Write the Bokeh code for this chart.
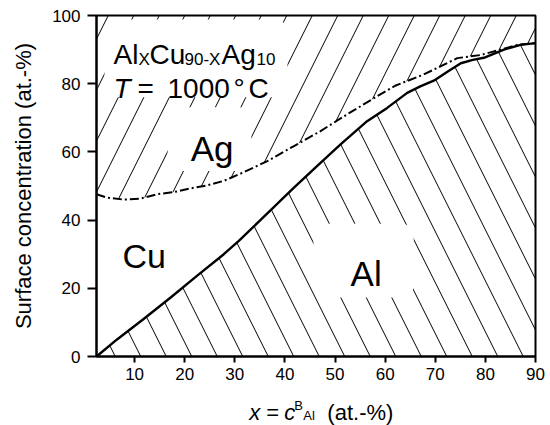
from bokeh.plotting import figure
from bokeh.layouts import column
from bokeh.models import FixedTicker, Label, BoxAnnotation
from bokeh.core.properties import value
from bokeh.embed import file_html
from bokeh.resources import INLINE

# Bulk Al content x (at.-%) and the surface composition boundaries (at.-%)
al_x = [2.4, 6.5, 11.8, 17.2, 22.5, 27.8, 30.8, 35.1, 41.8, 47.1, 51.1,
        56.4, 60.4, 64.4, 67.0, 69.7, 72.5, 75.1, 77.5, 79.7, 83.7, 87.0, 90.0]
al_surface = [0.0, 5.0, 11.0, 17.3, 23.7, 30.0, 33.9, 40.0, 49.5, 56.8, 62.2,
              69.0, 72.9, 77.3, 79.2, 80.9, 83.6, 86.0, 87.0, 87.6, 90.0, 91.4, 91.9]

ag_x = [2.4, 4.5, 7.9, 11.2, 14.5, 17.8, 21.2, 24.5, 27.8, 31.1, 36.5,
        41.8, 47.1, 52.4, 57.8, 62.0, 67.7, 74.4, 79.0, 83.0, 86.4, 90.0]
ag_boundary = [47.6, 46.6, 46.0, 46.3, 47.6, 48.2, 49.3, 50.2, 51.5, 53.6, 57.3,
               61.7, 66.1, 71.0, 75.8, 79.4, 82.7, 87.5, 88.4, 90.0, 91.4, 91.9]

x_ticks = [10, 20, 30, 40, 50, 60, 70, 80, 90]
y_ticks = [0, 20, 40, 60, 80, 100]

FONT = "Liberation Sans"

p = figure(width=550, height=390, x_range=(2.4, 90), y_range=(0, 100),
           output_backend="svg", toolbar_location=None, title_location=None,
           min_border_left=96, min_border_right=15,
           min_border_top=15, min_border_bottom=34)
p.grid.visible = False
p.background_fill_color = "white"
p.border_fill_color = "white"
p.outline_line_color = "black"
p.outline_line_width = 2

# axes
p.xaxis.ticker = FixedTicker(ticks=x_ticks)
p.yaxis.ticker = FixedTicker(ticks=y_ticks)
for ax in (p.xaxis[0], p.yaxis[0]):
    ax.axis_line_width = 2
    ax.major_tick_line_width = 2
    ax.major_tick_in = 0
    ax.minor_tick_line_color = None
    ax.major_label_text_font = FONT
    ax.major_label_text_font_size = "17px"
    ax.major_label_text_color = "black"
p.xaxis.major_tick_out = 6
p.xaxis.major_label_standoff = 5
p.yaxis.major_tick_out = 9
p.yaxis.major_label_standoff = 7
p.yaxis.axis_label = "Surface concentration (at.-%)"
p.yaxis.axis_label_text_font = FONT
p.yaxis.axis_label_text_font_style = "normal"
p.yaxis.axis_label_text_font_size = "22px"
p.yaxis.axis_label_text_color = "black"
p.yaxis.axis_label_standoff = 13

y_top = y_ticks[-1]

# hatched regions: Ag above the dash-dot boundary, Al below the solid one
p.varea(x=ag_x, y1=ag_boundary, y2=[y_top] * len(ag_x),
        fill_alpha=0, hatch_pattern="/", hatch_scale=51,
        hatch_weight=1, hatch_color="black")
p.varea(x=al_x, y1=[0] * len(al_x), y2=al_surface,
        fill_alpha=0, hatch_pattern="\\", hatch_scale=51,
        hatch_weight=1, hatch_color="black")

# white backgrounds behind the texts inside the frame
for left, right, bottom, top in [(4.0, 40.5, 76.0, 98.8),
                                 (16.6, 33.3, 54.4, 73.1),
                                 (45.7, 65.7, 17.3, 38.9)]:
    p.add_layout(BoxAnnotation(left=left, right=right, bottom=bottom, top=top,
                               fill_color="white", fill_alpha=1,
                               line_color=None, border_radius=12))

p.line(al_x, al_surface, line_color="black", line_width=2.4, level="overlay")
p.line(ag_x, ag_boundary, line_color="black", line_width=2,
       line_dash="9 3 2 3", level="overlay")


def put(text, x, y, dx=0, dy=0, size=28, style="normal"):
    p.add_layout(Label(x=x, y=y, x_offset=dx, y_offset=dy, text=text,
                       text_font=FONT, text_font_size=f"{size}px",
                       text_font_style=style, text_color="black",
                       text_align="left", text_baseline="alphabetic"))


# composition / temperature
tx, ty = 5.8, 88.6
put("Al", tx, ty, 0, 0)
put("X", tx, ty, 25, -5, 17)
put("Cu", tx, ty, 36, 0)
put("90-X", tx, ty, 71, -5, 17)
put("Ag", tx, ty, 108, 0)
put("10", tx, ty, 143, -5, 17)
put("T", tx, ty, 0, -34, 28, "italic")
put("=", tx, ty, 24, -34)
put("1000", tx, ty, 54, -34)
put("°", tx, ty, 120, -34)
put("C", tx, ty, 135, -34)

# phase regions
put("Ag", 21.2, 61.1, size=35)
put("Cu", 7.6, 29.4, size=34)
put("Al", 53.1, 24.3, size=35)

# x axis title strip: x = c^B_Al (at.-%)
q = figure(width=550, height=35, x_range=p.x_range, y_range=(0, 1),
           output_backend="svg", toolbar_location=None, title_location=None,
           x_axis_type=None, y_axis_type=None,
           min_border_left=96, min_border_right=15,
           min_border_top=0, min_border_bottom=0)
q.grid.visible = False
q.outline_line_color = None
q.background_fill_color = "white"
q.border_fill_color = "white"


def put_q(text, dx, dy, size=22, style="normal"):
    # baseline measured in pixels down from the top edge of the strip
    q.text(x=[32.9], y=[1], text=[text], x_offset=dx, y_offset=22 + dy,
           text_font=value(FONT), text_font_size=f"{size}px",
           text_font_style=style, text_color="black",
           text_align="left", text_baseline="alphabetic")


put_q("x", 0, 0, 22, "italic")
put_q("=", 17, 0)
put_q("c", 35, 0, 22, "italic")
put_q("B", 45, -7, 13)
put_q("Al", 54, 3, 13)
put_q("(at.-%)", 78, 0)

layout = column(p, q, spacing=0)
open("out.html", "w").write(file_html(layout, INLINE))
